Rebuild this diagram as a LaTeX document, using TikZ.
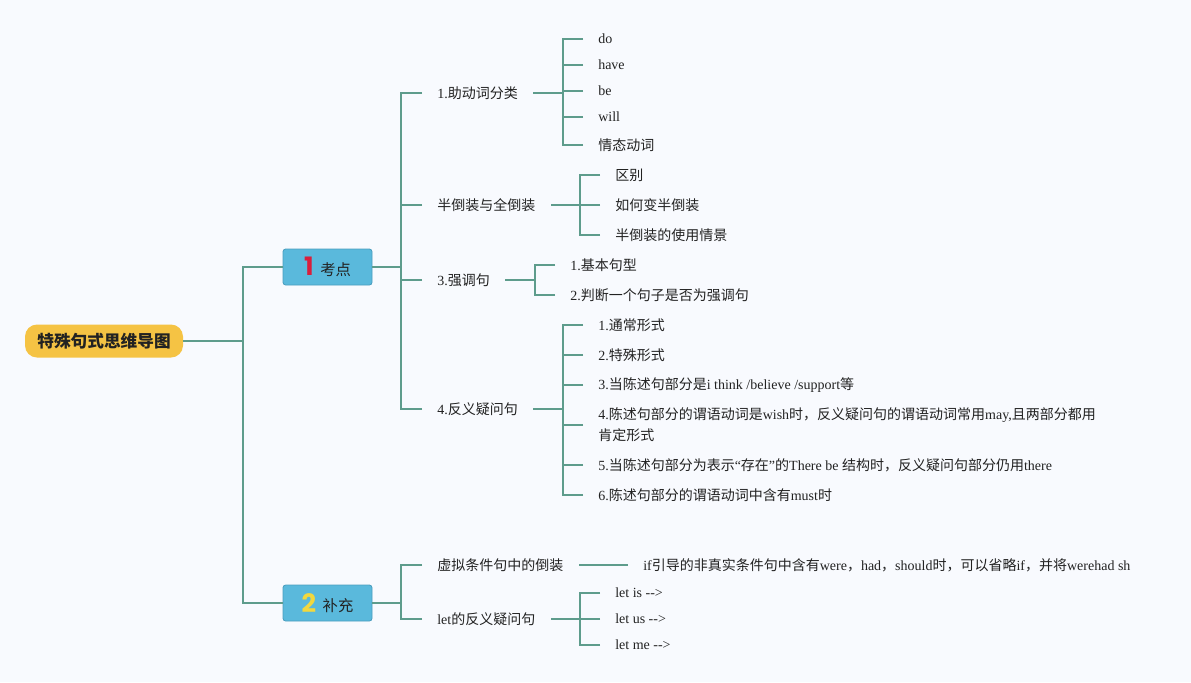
\documentclass[tikz,border=0pt]{standalone}
\usepackage{fontspec}
\setmainfont{Liberation Serif}
\newfontfamily\cjk{Noto Sans CJK SC}
\newfontfamily\numfont{Poppins}
\newcommand\zh[1]{{\cjk #1}}
\definecolor{bgc}{HTML}{F8FAFE}
\definecolor{lnk}{HTML}{5E9C8C}
\definecolor{gold}{HTML}{F5C344}
\definecolor{boxfill}{HTML}{5AB9DC}
\definecolor{boxdraw}{HTML}{4A9DBE}
\definecolor{numred}{HTML}{D91E3C}
\definecolor{numyel}{HTML}{F2D83E}
\definecolor{txt}{HTML}{222222}
\begin{document}
\begin{tikzpicture}[x=0.75pt,y=-0.75pt,
  leaf/.style={anchor=west, inner xsep=11.25pt, inner ysep=2pt, text=txt,
    font=\fontsize{10.5}{15.75}\selectfont},
  link/.style={draw=lnk, line width=1.5pt},
  rootbox/.style={fill=gold, rounded corners=9pt, minimum width=118.5pt,
    minimum height=24.75pt, text=txt, font=\cjk\bfseries\fontsize{12.5}{14}\selectfont},
  topicbox/.style={fill=boxfill, draw=boxdraw, line width=0.6pt, rounded corners=2pt,
    minimum width=66.75pt, minimum height=27pt, inner ysep=0pt, text=txt, font=\fontsize{11.5}{13}\selectfont}
]
\fill[bgc] (0,0) rectangle (1191,682);
\useasboundingbox (0,0) rectangle (1191,682);

% root and topics
\node[rootbox] (root) at (104,341) {特殊句式思维导图};
\node[topicbox] (b1) at (327.5,267) {\raisebox{-0.5pt}{\numfont\bfseries\fontsize{19}{19}\selectfont\color{numred}1}\hspace{5pt}\zh{考点}};
\node[topicbox] (b2) at (327.5,603) {\raisebox{-0.5pt}{\numfont\bfseries\fontsize{19}{19}\selectfont\color{numyel}2}\hspace{5pt}\zh{补充}};

% level 2 under b1
\node[leaf] (c1) at (422,93) {1.\zh{助动词分类}};
\node[leaf] (c2) at (422,205) {\zh{半倒装与全倒装}};
\node[leaf] (c3) at (422,280) {3.\zh{强调句}};
\node[leaf] (c4) at (422,409) {4.\zh{反义疑问句}};

% c1 leaves
\node[leaf] (c1a) at (583,39) {do};
\node[leaf] (c1b) at (583,65) {have};
\node[leaf] (c1c) at (583,91) {be};
\node[leaf] (c1d) at (583,117) {will};
\node[leaf] (c1e) at (583,145) {\zh{情态动词}};

% c2 leaves
\node[leaf] (c2a) at (600,175) {\zh{区别}};
\node[leaf] (c2b) at (600,205) {\zh{如何变半倒装}};
\node[leaf] (c2c) at (600,235) {\zh{半倒装的使用情景}};

% c3 leaves
\node[leaf] (c3a) at (555,265) {1.\zh{基本句型}};
\node[leaf] (c3b) at (555,295) {2.\zh{判断一个句子是否为强调句}};

% c4 leaves
\node[leaf] (c4a) at (583,325) {1.\zh{通常形式}};
\node[leaf] (c4b) at (583,355) {2.\zh{特殊形式}};
\node[leaf] (c4c) at (583,385) {3.\zh{当陈述句部分是}i think /believe /support\zh{等}};
\node[leaf, align=left] (c4d) at (583,425) {4.\zh{陈述句部分的谓语动词是}wish\zh{时，反义疑问句的谓语动词常用}may,\zh{且两部分都用}\\\zh{肯定形式}};
\node[leaf] (c4e) at (583,465) {5.\zh{当陈述句部分为表示}“\zh{存在}”\zh{的}There be \zh{结构时，反义疑问句部分仍用}there};
\node[leaf] (c4f) at (583,495) {6.\zh{陈述句部分的谓语动词中含有}must\zh{时}};

% level 2 under b2
\node[leaf] (d1) at (422,565) {\zh{虚拟条件句中的倒装}};
\node[leaf] (d2) at (422,619) {let\zh{的反义疑问句}};
\node[leaf] (d1a) at (628,565) {if\zh{引导的非真实条件句中含有}were\zh{，}had\zh{，}should\zh{时，可以省略}if\zh{，并将}werehad sh};
\node[leaf] (d2a) at (600,593) {let is -{}->};
\node[leaf] (d2b) at (600,619) {let us -{}->};
\node[leaf] (d2c) at (600,645) {let me -{}->};

% connectors
\foreach \c in {b1,b2} \draw[link] (\c.west) -- ++(-40,0) |- (root.east);
\foreach \c in {c1,c2,c3,c4} \draw[link] (\c.west) -- ++(-21,0) |- (b1.east);
\foreach \c in {d1,d2} \draw[link] (\c.west) -- ++(-21,0) |- (b2.east);
\foreach \c in {c1a,c1b,c1c,c1d,c1e} \draw[link] (\c.west) -- ++(-20,0) |- (c1.east);
\foreach \c in {c2a,c2b,c2c} \draw[link] (\c.west) -- ++(-20,0) |- (c2.east);
\foreach \c in {c3a,c3b} \draw[link] (\c.west) -- ++(-20,0) |- (c3.east);
\foreach \c in {c4a,c4b,c4c,c4d,c4e,c4f} \draw[link] (\c.west) -- ++(-20,0) |- (c4.east);
\foreach \c in {d2a,d2b,d2c} \draw[link] (\c.west) -- ++(-20,0) |- (d2.east);
\draw[link] (d1a.west) -- (d1.east);
\end{tikzpicture}
\end{document}
